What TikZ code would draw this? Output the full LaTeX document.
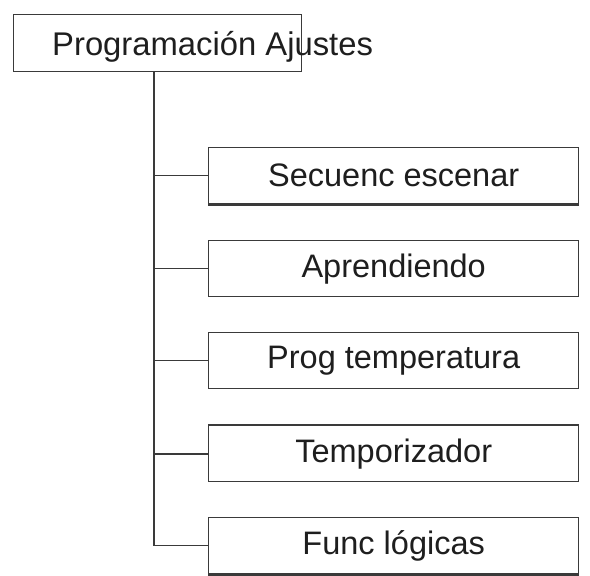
\documentclass[tikz,border=0pt]{standalone}
\usepackage{fontspec}
\setmainfont{Liberation Sans}
\definecolor{ln}{HTML}{3A3A3A}
\definecolor{tx}{HTML}{1E1E1E}
\begin{document}
\begin{tikzpicture}[x=1pt,y=-1pt,
  box/.style={draw=ln,line width=1.4pt,minimum width=370pt,minimum height=56pt,inner sep=0pt,
    text=tx,font=\fontsize{32.5}{36}\selectfont,anchor=north west},
  topbox/.style={draw=ln,line width=1.4pt,minimum width=288pt,minimum height=57pt,inner sep=0pt,anchor=north west},
  conn/.style={draw=ln,line width=1.4pt},
  thick edge/.style={draw=ln,line width=2.4pt}]
\useasboundingbox (0,0) rectangle (590,576);
\fill[white] (0,0) rectangle (590,576);
\node[topbox] (top) at (13,14) {};
\node[anchor=base west,inner sep=0pt,text=tx,font=\fontsize{32.8}{36}\selectfont] (toptext) at (52,55) {Programación Ajustes};
\node[box] (b1) at (208,147) {Secuenc escenar};
\node[box] (b2) at (208,240) {Aprendiendo};
\node[box] (b3) at (208,332) {Prog temperatura};
\node[box] (b4) at (208,425) {Temporizador};
\node[box] (b5) at (208,517) {Func lógicas};
\coordinate (trunk) at (154,0);
\draw[conn] (top.south -| trunk) -- (trunk |- b5.west) -- (b5.west);
\draw[conn] (trunk |- b1.west) -- (b1.west);
\draw[conn] (trunk |- b2.west) -- (b2.west);
\draw[conn] (trunk |- b3.west) -- (b3.west);
\draw[thick edge] (trunk |- b4.west) -- (b4.west);
\draw[thick edge] (b1.south west) -- (b1.south east);
\draw[thick edge] (b4.north west) -- (b4.north east);
\draw[thick edge] (b5.south west) -- (b5.south east);
\end{tikzpicture}
\end{document}
